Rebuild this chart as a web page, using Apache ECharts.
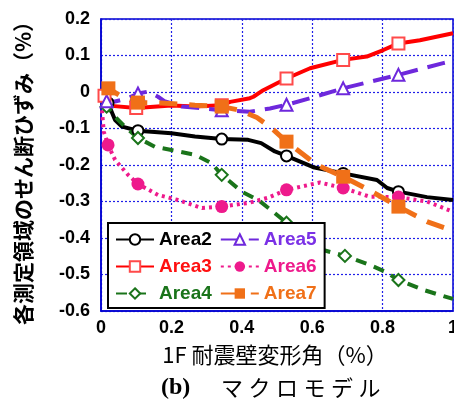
<!DOCTYPE html>
<html>
<head>
<meta charset="utf-8">
<script src="https://cdn.jsdelivr.net/npm/echarts@6/dist/echarts.min.js"></script>
<style>
html, body { margin: 0; padding: 0; background: #fff; }
#chart { width: 454px; height: 405px; }
</style>
</head>
<body>
<div id="chart"></div>
<script>
// tick values
const xTicks = [0, 0.2, 0.4, 0.6, 0.8, 1];
const yTicks = [-0.6, -0.5, -0.4, -0.3, -0.2, -0.1, 0, 0.1, 0.2];

const names = ['Area2', 'Area3', 'Area4', 'Area5', 'Area6', 'Area7'];

// [drift %, shear strain %]
const area2 = [[0.005,-0.01],[0.02,-0.03],[0.04,-0.077],[0.06,-0.095],[0.105,-0.106],[0.2,-0.113],[0.267,-0.122],[0.343,-0.129],[0.418,-0.131],[0.455,-0.14],[0.494,-0.163],[0.527,-0.175],[0.603,-0.206],[0.688,-0.223],[0.784,-0.241],[0.813,-0.263],[0.845,-0.273],[0.926,-0.288],[1.0,-0.296]];
const area2Marks = [1, 4, 7, 11, 13, 16];

const area3 = [[0.002,0.005],[0.01,-0.01],[0.03,-0.038],[0.1,-0.044],[0.2,-0.037],[0.267,-0.04],[0.343,-0.036],[0.367,-0.027],[0.423,-0.017],[0.433,-0.013],[0.461,0.005],[0.5,0.024],[0.527,0.037],[0.594,0.065],[0.688,0.088],[0.755,0.097],[0.802,0.115],[0.845,0.133],[0.906,0.142],[1.0,0.161]];
const area3Marks = [1, 3, 6, 12, 14, 17];

const area4 = [[0.008,-0.03],[0.016,-0.04],[0.04,-0.068],[0.068,-0.095],[0.105,-0.126],[0.153,-0.15],[0.2,-0.159],[0.267,-0.172],[0.314,-0.195],[0.343,-0.227],[0.4,-0.273],[0.447,-0.296],[0.494,-0.332],[0.527,-0.358],[0.631,-0.433],[0.693,-0.449],[0.764,-0.474],[0.807,-0.492],[0.845,-0.515],[0.915,-0.542],[1.0,-0.567]];
const area4Marks = [1, 4, 9, 13, 15, 18];

const area5 = [[0.005,-0.02],[0.016,-0.025],[0.04,-0.026],[0.077,-0.017],[0.105,-0.004],[0.134,0.001],[0.162,-0.013],[0.18,-0.025],[0.229,-0.04],[0.314,-0.047],[0.343,-0.05],[0.423,-0.054],[0.48,-0.045],[0.527,-0.035],[0.594,-0.017],[0.688,0.01],[0.764,0.028],[0.845,0.047],[0.972,0.079],[1.0,0.085]];
const area5Marks = [1, 4, 10, 13, 15, 17];

const area6 = [[0.003,-0.05],[0.005,-0.077],[0.008,-0.109],[0.02,-0.145],[0.04,-0.186],[0.077,-0.227],[0.105,-0.252],[0.162,-0.282],[0.219,-0.296],[0.287,-0.318],[0.343,-0.314],[0.418,-0.304],[0.474,-0.29],[0.527,-0.268],[0.622,-0.248],[0.688,-0.263],[0.764,-0.287],[0.845,-0.288],[0.926,-0.3],[1.0,-0.328]];
const area6Marks = [3, 6, 10, 13, 15, 17];

const area7 = [[0.005,0.008],[0.021,0.01],[0.059,-0.013],[0.105,-0.029],[0.172,-0.03],[0.267,-0.036],[0.343,-0.04],[0.395,-0.05],[0.443,-0.07],[0.48,-0.095],[0.527,-0.136],[0.613,-0.2],[0.688,-0.232],[0.764,-0.27],[0.845,-0.314],[0.926,-0.355],[1.0,-0.38]];
const area7Marks = [1, 3, 6, 10, 12, 14];

const colors = ['#000000', '#ff0000', '#1a741a', '#6e28dc', '#ee1a8c', '#f07018'];
const textColors = ['#000000', '#ff1010', '#1a741a', '#7a30e6', '#ee1a8c', '#f07018'];

const toData = (pts, marks) => pts.map((p, i) => marks.includes(i) ? {value: p} : {value: p, symbol: 'none'})

const mkSeries = (name, pts, marks, color, symbol, size, dash, width, markColor, bw) => ({
    name: name,
    type: 'line',
    data: toData(pts, marks),
    symbol: symbol,
    symbolSize: size,
    showSymbol: true,
    clip: false,
    lineStyle: {color: color, width: width, type: dash, cap: 'butt'},
    itemStyle: {color: markColor, borderColor: markColor, borderWidth: bw},
    emphasis: {disabled: true},
    animation: false
})

const series = [
    mkSeries('Area2', area2, area2Marks, colors[0], 'emptyCircle', 11, 'solid', 4, '#000', 1),
    mkSeries('Area3', area3, area3Marks, colors[1], 'emptyRect', 12, 'solid', 4, '#ff4a4a', 1),
    mkSeries('Area4', area4, area4Marks, colors[2], 'emptyDiamond', 12, [11, 8], 4, colors[2], 1),
    mkSeries('Area5', area5, area5Marks, colors[3], 'emptyTriangle', 12, [18, 10], 4, colors[3], 1),
    mkSeries('Area6', area6, area6Marks, colors[4], 'circle', 13, [3, 4], 4, colors[4], 0),
    mkSeries('Area7', area7, area7Marks, colors[5], 'rect', 14, [18, 12], 5, colors[5], 0)
]

const tickFont = {fontFamily: 'Liberation Sans', fontWeight: 'bold', fontSize: 18, color: '#000'}
const fmt = v => (Math.abs(v) < 1e-9 ? '0' : (Math.abs(v - 1) < 1e-9 ? '1' : v.toFixed(1)))

const option = {
    backgroundColor: '#fff',
    animation: false,
    grid: {
        left: 101, right: 1, top: 19, bottom: 94,
        show: true,
        borderColor: '#0000d0',
        borderWidth: 1.5,
        backgroundColor: 'transparent',
        outerBoundsMode: 'none'
    },
    xAxis: {
        type: 'value',
        min: xTicks[0], max: xTicks[xTicks.length - 1], interval: 0.2,
        axisLine: {show: true, onZero: false, lineStyle: {color: '#0000d0', width: 1.5}},
        axisTick: {show: false},
        axisLabel: Object.assign({margin: 8, formatter: fmt}, tickFont),
        splitLine: {show: true, lineStyle: {color: '#1f1fe8', width: 1.2, type: [2, 2]}}
    },
    yAxis: {
        type: 'value',
        min: yTicks[0], max: yTicks[yTicks.length - 1], interval: 0.1,
        axisLine: {show: true, onZero: false, lineStyle: {color: '#0000d0', width: 1.5}},
        axisTick: {show: false},
        axisLabel: Object.assign({margin: 11, formatter: fmt}, tickFont),
        splitLine: {show: true, lineStyle: {color: '#1f1fe8', width: 1.2, type: [2, 2]}}
    },
    legend: {
        data: [0, 3, 1, 4, 2, 5].map(i => ({name: names[i], textStyle: {color: textColors[i]}})),
        left: 108, top: 223,
        width: 205,
        orient: 'horizontal',
        padding: [7, 8, 5, 7],
        itemWidth: 38,
        itemHeight: 13,
        itemGap: 8,
        backgroundColor: '#fff',
        borderColor: '#000',
        borderWidth: 2,
        borderRadius: 0,
        selectedMode: false,
        textStyle: {fontFamily: 'Liberation Sans', fontWeight: 'bold', fontSize: 19, lineHeight: 15}
    },
    graphic: [
        {
            type: 'text', x: 23, y: 168, rotation: Math.PI / 2,
            style: {text: '各測定領域のせん断ひずみ（%）', fontFamily: 'Noto Sans CJK JP', fontWeight: 'bold', fontSize: 21, fill: '#000', align: 'center', verticalAlign: 'middle'}
        },
        {
            type: 'text', x: 275, y: 355,
            style: {text: '1F 耐震壁変形角（%）', fontFamily: 'Noto Sans CJK JP', fontSize: 22, fill: '#000', align: 'center', verticalAlign: 'middle'}
        },
        {
            type: 'text', x: 161, y: 388,
            style: {text: '(b)', fontFamily: 'Liberation Serif', fontWeight: 'bold', fontSize: 24, fill: '#000', align: 'left', verticalAlign: 'middle'}
        },
        {
            type: 'text', x: 221, y: 388,
            style: {text: 'マ\u2005ク\u2005ロ\u2005モ\u2005デ\u2005ル', fontFamily: 'Noto Sans CJK JP', fontSize: 22, fill: '#000', align: 'left', verticalAlign: 'middle'}
        }
    ],
    series: series
};

const myChart = echarts.init(document.getElementById('chart'), null, {renderer: 'canvas'});
myChart.setOption(option);
</script>
</body>
</html>
